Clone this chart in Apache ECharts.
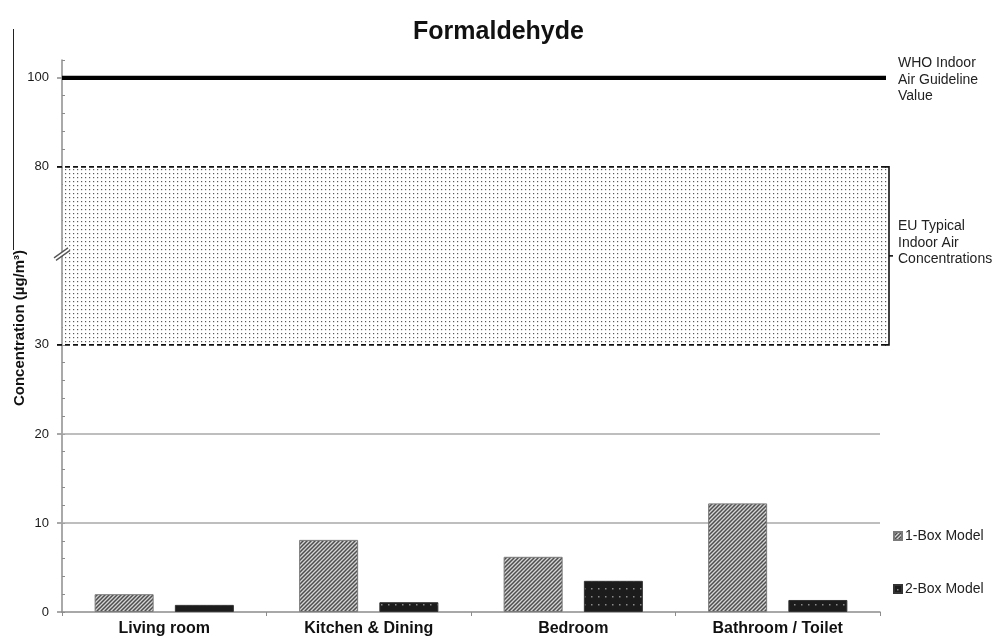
<!DOCTYPE html>
<html><head><meta charset="utf-8">
<script src="https://cdn.jsdelivr.net/npm/echarts@6/dist/echarts.min.js"></script>
<style>html,body{margin:0;padding:0;background:#fff}#c{width:997px;height:639px}</style>
</head><body><div id="c"></div>
<script>
// ---- data ----
const categories = ['Living room', 'Kitchen & Dining', 'Bedroom', 'Bathroom / Toilet'];
const seriesNames = ['1-Box Model', '2-Box Model'];
const oneBox = [2.0, 8.1, 6.2, 12.2];
const twoBox = [0.8, 1.1, 3.5, 1.35];
const yTickValues = [0, 10, 20, 30, 80, 100];
const gridValues = [10, 20];
const whoValue = 100;
const euRange = [30, 80];
const axisBreak = [40, 60];
const axisTop = 104;
const whoLabel = 'WHO Indoor\nAir Guideline\nValue';
const euLabel = 'EU Typical\nIndoor Air\nConcentrations';
const yName = 'Concentration (µg/m³)';
const titleText = 'Formaldehyde';

// broken axis: below the break 1:1, above the break half scale
function toD(v) { return v <= axisBreak[0] ? v : axisBreak[0] + (v - axisBreak[1]) / 2; }
function fromD(d) { return d <= axisBreak[0] ? d : axisBreak[1] + (d - axisBreak[0]) * 2; }

const FONT = '"Liberation Sans", Arial, sans-serif';

function pattern(w, h, draw) {
  const c = document.createElement('canvas');
  c.width = w; c.height = h;
  const g = c.getContext('2d');
  draw(g, w, h);
  return { image: c, repeat: 'repeat' };
}
const hatch = pattern(4, 4, (g, w, h) => {
  g.fillStyle = '#d4d4d4'; g.fillRect(0, 0, w, h);
  g.strokeStyle = '#4e4e4e'; g.lineWidth = 1.5;
  g.beginPath();
  g.moveTo(0, h); g.lineTo(w, 0);
  g.moveTo(-1, 1); g.lineTo(1, -1);
  g.moveTo(w - 1, h + 1); g.lineTo(w + 1, h - 1);
  g.stroke();
});
const darkDots = pattern(7, 8, (g, w, h) => {
  g.fillStyle = '#1c1c1c'; g.fillRect(0, 0, w, h);
  g.fillStyle = '#8a8a8a'; g.fillRect(3, 4, 1.5, 1.5);
});
const lightDots = pattern(4, 4, (g, w, h) => {
  g.fillStyle = '#ffffff'; g.fillRect(0, 0, w, h);
  g.fillStyle = '#5a5a5a'; g.fillRect(1, 1, 1.2, 1.2);
});

const allTicks = [];
for (let d = 0; d <= toD(axisTop); d += 2) allTicks.push(d);

const chart = echarts.init(document.getElementById('c'));
const option = {
  animation: false,
  backgroundColor: '#fff',
  textStyle: { fontFamily: FONT },
  title: {
    text: titleText, left: 'center', top: 15,
    textStyle: { fontSize: 25, fontWeight: 'bold', color: '#111', fontFamily: FONT }
  },
  legend: {
    orient: 'vertical', left: 893, top: 529, itemGap: 39, padding: 0,
    itemWidth: 8, itemHeight: 8, icon: 'rect',
    textStyle: { fontSize: 14, color: '#222', fontFamily: FONT, padding: [0, 0, 0, -2] },
    data: seriesNames
  },
  grid: { left: 62, right: 117, top: 60, bottom: 27, containLabel: false },
  xAxis: {
    type: 'category', data: categories,
    axisLine: { lineStyle: { color: '#8c8c8c', width: 1.5 } },
    axisTick: { show: true, length: 4, lineStyle: { color: '#8c8c8c' } },
    axisLabel: { fontSize: 16, fontWeight: 'bold', color: '#111', margin: 9, fontFamily: FONT, interval: 0 }
  },
  yAxis: [{
    type: 'value', min: 0, max: toD(axisTop), interval: 2,
    axisLine: { show: true, lineStyle: { color: '#8c8c8c', width: 1.5 } },
    axisTick: { show: true, length: 5, customValues: yTickValues.map(toD), lineStyle: { color: '#8c8c8c', width: 1.5 } },
    axisLabel: { customValues: yTickValues.map(toD), formatter: d => String(Math.round(fromD(d))), fontSize: 13, color: '#1a1a1a', margin: 13, fontFamily: FONT },
    splitLine: { show: false }
  }, {
    type: 'value', min: 0, max: toD(axisTop), interval: 2, position: 'left',
    axisLine: { show: false },
    axisTick: { show: true, inside: true, length: 3, customValues: allTicks, lineStyle: { color: '#8c8c8c' } },
    axisLabel: { show: false },
    splitLine: { show: false }
  }],
  series: [{
    name: seriesNames[0], type: 'bar', data: oneBox.map(toD),
    barWidth: 59, barGap: '36%',
    itemStyle: { color: hatch, borderColor: '#7a7a7a', borderWidth: 1 }
  }, {
    name: seriesNames[1], type: 'bar', data: twoBox.map(toD),
    barWidth: 59,
    itemStyle: { color: darkDots, borderColor: '#333', borderWidth: 1 }
  }]
};
chart.setOption(option);

// ---- annotations positioned through the axes ----
const py = v => chart.convertToPixel({ yAxisIndex: 0 }, toD(v));
const c0 = chart.convertToPixel({ xAxisIndex: 0 }, 0);
const c1 = chart.convertToPixel({ xAxisIndex: 0 }, 1);
const cw = c1 - c0;
const xL = c0 - cw / 2;
const xR = chart.convertToPixel({ xAxisIndex: 0 }, categories.length - 1) + cw / 2;
const bandR = xR + 9;
const yTop = py(euRange[1]), yBot = py(euRange[0]);
const yMid = (yTop + yBot) / 2;
const yWho = py(whoValue);
const yBreak = chart.convertToPixel({ yAxisIndex: 0 }, axisBreak[0]) - 3;

const g = [];
gridValues.forEach(v => {
  g.push({ type: 'line', z: 1, shape: { x1: xL - 5, y1: py(v), x2: xR, y2: py(v) }, style: { stroke: '#a8a8a8', lineWidth: 1.5 } });
});
g.push({ type: 'rect', z: 1, shape: { x: xL + 1, y: yTop, width: bandR - xL - 1, height: yBot - yTop }, style: { fill: lightDots } });
g.push({ type: 'line', z: 3, shape: { x1: xL - 5, y1: yTop, x2: bandR, y2: yTop }, style: { stroke: '#111', lineWidth: 1.6, lineDash: [5, 3] } });
g.push({ type: 'line', z: 3, shape: { x1: xL - 5, y1: yBot, x2: bandR, y2: yBot }, style: { stroke: '#111', lineWidth: 1.6, lineDash: [5, 3] } });
g.push({ type: 'polyline', z: 3, shape: { points: [[bandR - 4, yTop], [bandR, yTop], [bandR, yBot], [bandR - 4, yBot]] }, style: { stroke: '#111', lineWidth: 1.6, fill: null } });
g.push({ type: 'line', z: 3, shape: { x1: bandR, y1: yMid, x2: bandR + 4, y2: yMid }, style: { stroke: '#111', lineWidth: 1.6 } });
g.push({ type: 'line', z: 3, shape: { x1: xL, y1: yWho, x2: xR + 6, y2: yWho }, style: { stroke: '#000', lineWidth: 4.2 } });
// axis break mark
g.push({ type: 'polygon', z: 4, shape: { points: [[xL - 8, yBreak + 5], [xL + 6, yBreak - 5], [xL + 8, yBreak - 2.5], [xL - 6, yBreak + 7.5]] }, style: { fill: '#fff' } });
g.push({ type: 'line', z: 5, shape: { x1: xL - 8, y1: yBreak + 5, x2: xL + 6, y2: yBreak - 5 }, style: { stroke: '#555', lineWidth: 1.3 } });
g.push({ type: 'line', z: 5, shape: { x1: xL - 6, y1: yBreak + 7.5, x2: xL + 8, y2: yBreak - 2.5 }, style: { stroke: '#555', lineWidth: 1.3 } });
// right-side labels
g.push({ type: 'text', z: 5, x: bandR + 9, y: yWho - 22.5, style: { text: whoLabel, font: '14px ' + FONT, lineHeight: 16.5, fill: '#222', verticalAlign: 'top' } });
g.push({ type: 'text', z: 5, x: bandR + 9, y: yMid - 13 - 24.75, style: { text: euLabel, font: '14px ' + FONT, lineHeight: 16.5, fill: '#222', verticalAlign: 'top' } });
// y axis name
g.push({ type: 'text', z: 5, x: 20, y: 328, rotation: Math.PI / 2, style: { text: yName, font: 'bold 15px ' + FONT, fill: '#111', align: 'center', verticalAlign: 'middle' } });
// thin left border fragment
g.push({ type: 'line', z: 5, shape: { x1: 13.5, y1: 29, x2: 13.5, y2: 250 }, style: { stroke: '#222', lineWidth: 1 } });

chart.setOption({ graphic: g });
</script>
</body></html>
